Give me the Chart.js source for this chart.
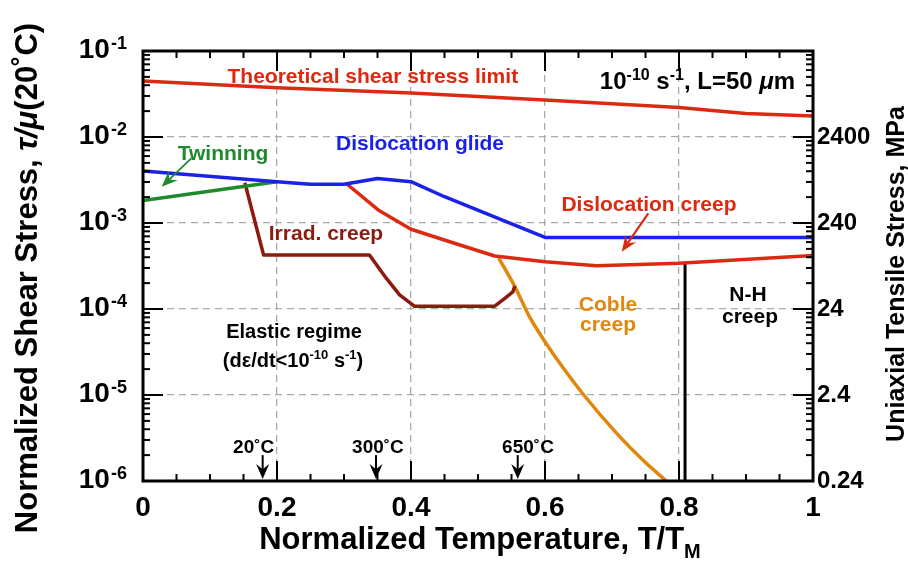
<!DOCTYPE html>
<html><head><meta charset="utf-8">
<script src="https://cdn.jsdelivr.net/npm/chart.js@4.4.0/dist/chart.umd.min.js"></script>
<style>html,body{margin:0;padding:0;background:#fff;}#wrap{width:908px;height:563px;}</style>
</head><body><div id="wrap"><canvas id="c" width="908" height="563"></canvas></div>
<script>
const FONT = '"Liberation Sans", Arial, Helvetica, sans-serif';

// ---- tick values / labels ----
const xTickValues = [0, 0.2, 0.4, 0.6, 0.8, 1];
const yTickValues = [1e-6, 1e-5, 1e-4, 1e-3, 1e-2, 1e-1];
const yTickExponents = ['-6', '-5', '-4', '-3', '-2', '-1'];
const mpaTickValues = [0.24, 2.4, 24, 240, 2400];
const mpaTickLabels = ['0.24', '2.4', '24', '240', '2400'];

// ---- series: [T/Tm, tau/mu] ----
const theoreticalLimit = [[0,0.0448],[0.2,0.0374],[0.4,0.0325],[0.6,0.0269],[0.8,0.0221],[0.9,0.0188],[1,0.0175]];
const dislocationGlide = [[0,0.00403],[0.2,0.00302],[0.25,0.00282],[0.3,0.00282],[0.35,0.0033],[0.4,0.00302],[0.45,0.00202],[0.6,0.00068],[1,0.00068]];
const twinning = [[0,0.00182],[0.2,0.00302]];
const dislocationCreep = [[0.303,0.0029],[0.351,0.00142],[0.4,0.000845],[0.473,0.000555],[0.525,0.000413],[0.6,0.000355],[0.677,0.000319],[0.8,0.00034],[1,0.00042]];
const irradCreep = [[0.152,0.00294],[0.18,0.000424],[0.338,0.000424],[0.363,0.000228],[0.383,0.000146],[0.405,0.000108],[0.525,0.000108],[0.54,0.000133],[0.552,0.000158],[0.555,0.000185]];
const cobleCreep = [[0.531,0.00039],[0.555,0.000182],[0.577,8.1e-5],[0.6,4.17e-5],[0.627,2.07e-5],[0.657,1.02e-5],[0.707,3.58e-6],[0.746,1.75e-6],[0.781,1e-6]];
const nhBoundary = [[0.809,1e-6],[0.809,0.00034]];

// ---- annotation arrows ----
const tempArrowX = [0.1786, 0.3478, 0.5593];
const tempArrowY = [2.0e-6, 1.054e-6];
const tempLabels = ['20˚C', '300˚C', '650˚C'];
const tempLabelX = [0.1652, 0.3507, 0.5746];
const tempLabelY = 2.51e-6;
const twinArrow = [0.072, 5.65e-3, 0.0279, 2.64e-3];
const creepArrow = [0.7542, 1.297e-3, 0.7145, 4.63e-4];

const RED = '#dc2a12', BLUE = '#1a22e6', GREEN = '#1f8a2c', DARKRED = '#8c1a0e', ORANGE = '#e0870c';

function toXY(arr){ return arr.map(p => ({x: p[0], y: p[1]})); }
function ds(label, arr, color, extra){
  return Object.assign({label, data: toXY(arr), borderColor: color, backgroundColor: color,
    borderWidth: 3.5, pointRadius: 0, fill: false, tension: 0, borderJoinStyle: 'round'}, extra || {});
}

function fontStr(size, style){
  const it = style && style.indexOf('i') >= 0 ? 'italic ' : '';
  const b = style && style.indexOf('b') >= 0 ? 'bold ' : '';
  return it + b + size + 'px ' + FONT;
}
// segs: [text, size, style, dy]
function rich(ctx, segs, x, y, align, color){
  ctx.save();
  ctx.fillStyle = color; ctx.textBaseline = 'alphabetic'; ctx.textAlign = 'left';
  const ws = []; let total = 0;
  segs.forEach(s => { ctx.font = fontStr(s[1], s[2]); const w = ctx.measureText(s[0]).width; ws.push(w); total += w; });
  let cx = align === 'center' ? x - total/2 : (align === 'right' ? x - total : x);
  segs.forEach((s, i) => { ctx.font = fontStr(s[1], s[2]); ctx.fillText(s[0], cx, y + (s[3] || 0)); cx += ws[i]; });
  ctx.restore();
}
function arrowHead(ctx, x0, y0, x1, y1, len, half, color){
  const a = Math.atan2(y1 - y0, x1 - x0);
  const c = Math.cos(a), s = Math.sin(a);
  const bx = x1 - len*c, by = y1 - len*s;
  const nx = x1 - len*0.65*c, ny = y1 - len*0.65*s;
  ctx.save(); ctx.fillStyle = color; ctx.beginPath();
  ctx.moveTo(x1, y1);
  ctx.lineTo(bx - half*s, by + half*c);
  ctx.lineTo(nx, ny);
  ctx.lineTo(bx + half*s, by - half*c);
  ctx.closePath(); ctx.fill(); ctx.restore();
}
function arrow(ctx, X, Y, a, color, w, len, half){
  const x0 = X.getPixelForValue(a[0]), y0 = Y.getPixelForValue(a[1]);
  const x1 = X.getPixelForValue(a[2]), y1 = Y.getPixelForValue(a[3]);
  const ang = Math.atan2(y1 - y0, x1 - x0);
  ctx.save(); ctx.strokeStyle = color; ctx.lineWidth = w; ctx.beginPath();
  ctx.moveTo(x0, y0); ctx.lineTo(x1 - len*0.6*Math.cos(ang), y1 - len*0.6*Math.sin(ang)); ctx.stroke(); ctx.restore();
  arrowHead(ctx, x0, y0, x1, y1, len, half, color);
}

const decor = {
  id: 'decor',
  afterDatasetsDraw(chart){
    const ctx = chart.ctx, a = chart.chartArea, X = chart.scales.x, Y = chart.scales.y;
    ctx.save();
    ctx.strokeStyle = '#000'; ctx.lineWidth = 2;
    const line = (x0,y0,x1,y1) => { ctx.beginPath(); ctx.moveTo(x0,y0); ctx.lineTo(x1,y1); ctx.stroke(); };
    for (let i = 0; i <= 20; i++){
      const v = i*0.05, px = X.getPixelForValue(v);
      const len = (i % 4 === 0) ? 20 : 7;
      line(px, a.bottom, px, a.bottom - len); line(px, a.top, px, a.top + len);
    }
    for (let e = -6; e <= -1; e++){
      for (let m = 1; m <= 9; m++){
        if (e === -1 && m > 1) break;
        const py = Y.getPixelForValue(m*Math.pow(10, e));
        const len = m === 1 ? 20 : 7;
        line(a.left, py, a.left + len, py); line(a.right, py, a.right - len, py);
      }
    }
    ctx.lineWidth = 3;
    ctx.strokeRect(a.left, a.top, a.right - a.left, a.bottom - a.top);
    ctx.restore();

    tempArrowX.forEach(tx => arrow(ctx, X, Y, [tx, tempArrowY[0], tx, tempArrowY[1]], '#000', 2, 15, 6.5));
    arrow(ctx, X, Y, twinArrow, GREEN, 1.8, 16, 6.5);
    arrow(ctx, X, Y, creepArrow, RED, 2.2, 16, 6.5);
  },
  afterDraw(chart){
    const ctx = chart.ctx, X = chart.scales.x, Y = chart.scales.y;
    const P = (x, y) => [X.getPixelForValue(x), Y.getPixelForValue(y)];
    yTickValues.forEach((v, i) => {
      const py = Y.getPixelForValue(v);
      rich(ctx, [['10', 28, 'b', 6.5], [' ', 4, 'b', 0], [yTickExponents[i], 18, 'b', -2]], 127, py, 'right', '#000');
    });
    rich(ctx, [['Normalized Temperature, T/T', 31, 'b', 0], ['M', 20, 'b', 9]], 480, 549, 'center', '#000');
    ctx.save(); ctx.translate(26, 278); ctx.rotate(-Math.PI/2);
    rich(ctx, [['Normalized Shear Stress, ', 31, 'b', 0], ['τ/μ', 31, 'bi', 0], ['(20˚C)', 31, 'b', 0]], 0, 11, 'center', '#000');
    ctx.restore();
    ctx.save(); ctx.translate(895, 274); ctx.rotate(-Math.PI/2);
    rich(ctx, [['Uniaxial Tensile Stress, MPa', 25, 'b', 0]], 0, 9, 'center', '#000');
    ctx.restore();

    const label = (txt, x, y, size, color, style) => {
      const [px, py] = P(x, y);
      rich(ctx, [[txt, size, style || 'b', 0]], px, py + size*0.36, 'center', color);
    };
    label('Theoretical shear stress limit', 0.343, 0.0526, 21, RED);
    label('Dislocation glide', 0.4134, 0.00875, 21, BLUE);
    label('Twinning', 0.1194, 0.0067, 21, GREEN);
    label('Irrad. creep', 0.2731, 0.000785, 21, DARKRED);
    label('Dislocation creep', 0.7552, 0.00171, 21, RED);
    label('Coble', 0.694, 1.175e-4, 21, ORANGE);
    label('creep', 0.694, 6.87e-5, 21, ORANGE);
    label('N-H', 0.903, 1.53e-4, 21, '#000');
    label('creep', 0.906, 8.5e-5, 21, '#000');
    label('Elastic regime', 0.2254, 5.54e-5, 20, '#000');
    tempLabels.forEach((t, i) => label(t, tempLabelX[i], tempLabelY, 19, '#000', 'b'));

    let [px, py] = P(0.2239, 2.55e-5);
    rich(ctx, [['(dε/dt<10', 20, 'b', 0], ['-10', 13, 'b', -8], [' s', 20, 'b', 0], ['-1', 13, 'b', -8], [')', 20, 'b', 0]], px, py + 7, 'center', '#000');
    [px, py] = P(0.8276, 0.046);
    rich(ctx, [['10', 24, 'b', 0], ['-10', 16, 'b', -9], [' s', 24, 'b', 0], ['-1', 16, 'b', -9], [', L=50 ', 24, 'b', 0], ['μ', 24, 'bi', 0], ['m', 24, 'b', 0]], px, py + 8.5, 'center', '#000');
  }
};

const gridColor = (ends) => (c) => (c.tick && ends.includes(c.tick.value)) ? 'rgba(0,0,0,0)' : '#ababab';

new Chart(document.getElementById('c'), {
  type: 'line',
  data: { datasets: [
    ds('Theoretical shear stress limit', theoreticalLimit, RED),
    ds('Dislocation glide', dislocationGlide, BLUE),
    ds('Twinning', twinning, GREEN),
    ds('Dislocation creep', dislocationCreep, RED),
    ds('Irrad. creep', irradCreep, DARKRED),
    ds('Coble creep', cobleCreep, ORANGE, {cubicInterpolationMode: 'monotone'}),
    ds('N-H creep', nhBoundary, '#000', {borderWidth: 3})
  ]},
  options: {
    responsive: false, animation: false, devicePixelRatio: 1,
    layout: { padding: { top: 51, left: 0, right: 0, bottom: 0 } },
    plugins: { legend: { display: false }, tooltip: { enabled: false } },
    scales: {
      x: {
        type: 'linear', min: 0, max: 1,
        afterBuildTicks: s => { s.ticks = xTickValues.map(v => ({value: v})); },
        afterFit: s => { s.height = 82; },
        ticks: { font: { family: FONT, size: 28, weight: 'bold' }, color: '#000', padding: 10, maxRotation: 0, autoSkip: false, callback: v => String(v) },
        grid: { color: gridColor([0, 1]), lineWidth: 1.3, drawTicks: false },
        border: { display: false, dash: [7, 5] }
      },
      y: {
        type: 'logarithmic', position: 'left', min: 1e-6, max: 1e-1,
        afterBuildTicks: s => { s.ticks = yTickValues.map(v => ({value: v})); },
        afterFit: s => { s.width = 143; },
        ticks: { display: false },
        grid: { color: gridColor([1e-6, 1e-1]), lineWidth: 1.3, drawTicks: false },
        border: { display: false, dash: [7, 5] }
      },
      y2: {
        type: 'logarithmic', position: 'right', min: 0.24, max: 24000,
        afterBuildTicks: s => { s.ticks = mpaTickValues.map(v => ({value: v})); },
        afterFit: s => { s.width = 95; },
        ticks: { font: { family: FONT, size: 24, weight: 'bold' }, color: '#000', padding: 4, callback: (v, i) => mpaTickLabels[i] },
        grid: { display: false, drawTicks: false },
        border: { display: false }
      }
    }
  },
  plugins: [decor]
});
</script>
</body></html>
